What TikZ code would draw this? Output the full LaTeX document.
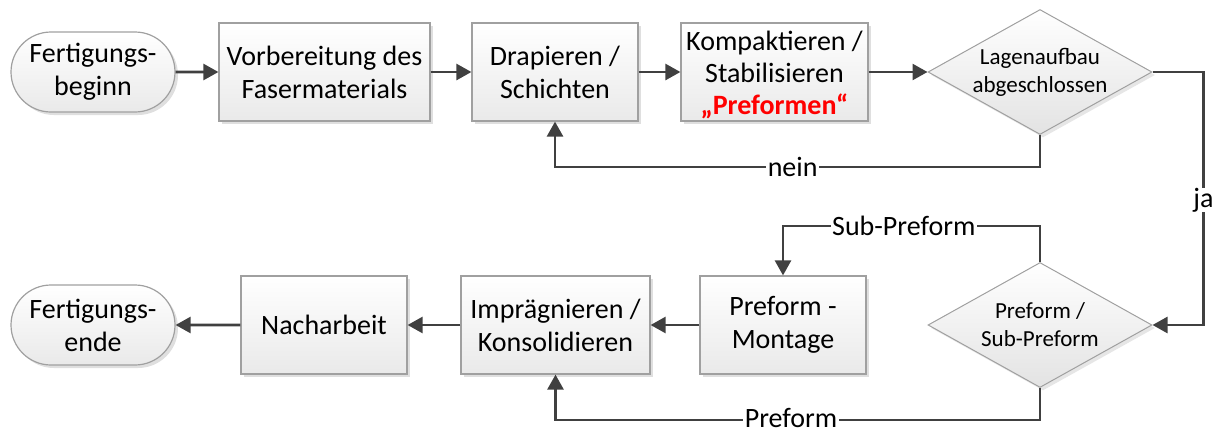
\documentclass[tikz,border=0pt]{standalone}
\usepackage{fontspec}
\setmainfont{Carlito}
\usetikzlibrary{shapes.geometric,shapes.misc,arrows.meta,shadows}
\definecolor{ln}{HTML}{404040}
\definecolor{bd}{HTML}{A0A0A0}
\definecolor{pfred}{HTML}{FF0000}
\begin{document}
\begin{tikzpicture}[x=1pt,y=-1pt,
  every node/.style={font=\fontsize{28}{33}\selectfont, align=center},
  proc/.style={rectangle, draw=bd, line width=1.2pt, top color=white, bottom color=gray!17,
    drop shadow={shadow xshift=3pt,shadow yshift=-3pt,opacity=0.25},
    minimum height=98pt, inner sep=0pt},
  term/.style={proc, rounded rectangle, minimum width=164pt, minimum height=80pt},
  dec/.style={diamond, draw=bd, line width=1pt, top color=white, bottom color=gray!22,
    drop shadow={shadow xshift=3pt,shadow yshift=-3pt,opacity=0.2},
    minimum width=224pt, minimum height=125pt, inner sep=0pt},
  dtext/.style={font=\fontsize{23}{28}\selectfont, inner sep=0pt},
  conn/.style={draw=ln, line width=2.6pt, -{Triangle[length=15pt,width=16pt]}},
  lbl/.style={fill=white, inner xsep=1.5pt, inner ysep=0pt}]
\useasboundingbox (0,0) rectangle (1213,434);

\node[term] (start) at (93,72) {Fertigungs-\\beginn};
\node[proc, minimum width=211pt] (vor) at (324.5,72) {Vorbereitung des\\Fasermaterials};
\node[proc, minimum width=166pt] (drap) at (555,72) {Drapieren /\\Schichten};
\node[proc, minimum width=187pt] (komp) at (774.5,72) {};
\node[font=\fontsize{28}{32}\selectfont, inner sep=0pt] (kompt) at (774.5,75) {Kompaktieren /\\Stabilisieren\\{\color{pfred}\bfseries „Preformen“}};
\node[dec] (d1) at (1040,72) {};
\node[dtext] (d1t) at (d1) {Lagenaufbau\\abgeschlossen};

\node[dec] (d2) at (1040,325) {};
\node[dtext] (d2t) at (d2) {Preform /\\Sub-Preform};
\node[proc, minimum width=166pt] (mont) at (783,325) {Preform -\\Montage};
\node[proc, minimum width=189pt] (impr) at (555.5,325) {Imprägnieren /\\Konsolidieren};
\node[proc, minimum width=166pt] (nach) at (324,325) {Nacharbeit};
\node[term] (end) at (93,325) {Fertigungs-\\ende};

\draw[conn] (start) -- (vor);
\draw[conn] (vor) -- (drap);
\draw[conn] (drap) -- (komp);
\draw[conn] (komp) -- (d1.west);
\draw[conn] (d1.south) -- ++(0,32) -| node[pos=0.255,lbl] (nein) {nein} (drap.south);
\draw[conn] (d1.east) -- ++(51,0) |- node[pos=0.253,lbl] (ja) {ja} (d2.east);
\draw[conn] (d2.north) -- ++(0,-36) -| node[pos=0.265,lbl] (sub) {Sub-Preform} (mont.north);
\draw[conn] (d2.south) -- ++(0,32) -| node[pos=0.257,lbl,align=left,text height=18pt,text depth=0pt,yshift=2pt] (pf) {Preform} (impr.south);
\draw[conn] (mont) -- (impr);
\draw[conn] (impr) -- (nach);
\draw[conn] (nach) -- (end);
\end{tikzpicture}
\end{document}
